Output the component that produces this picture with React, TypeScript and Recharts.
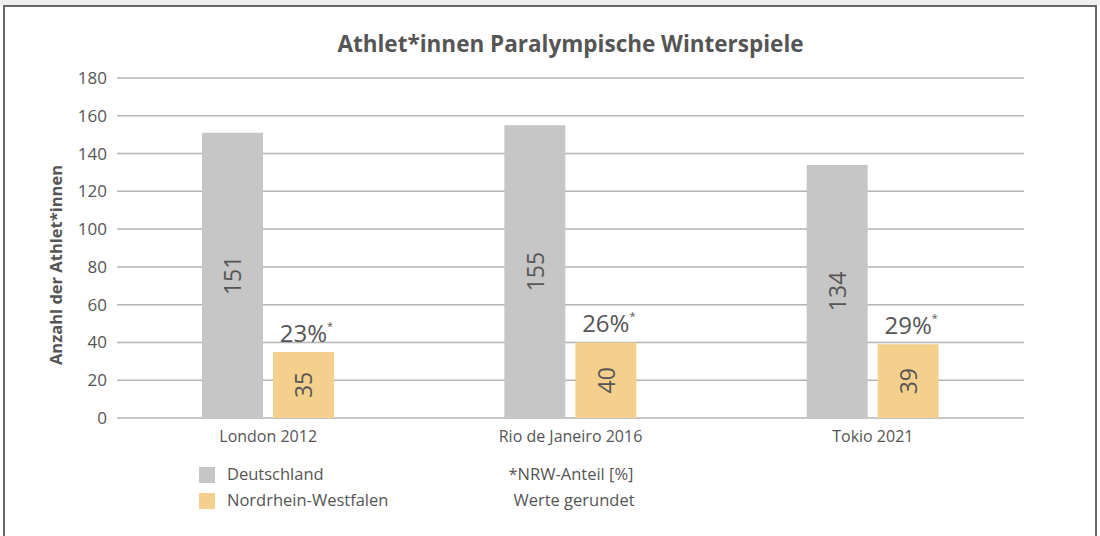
import { BarChart, Bar, XAxis, YAxis, CartesianGrid, LabelList } from 'recharts'

const categories = ['London 2012', 'Rio de Janeiro 2016', 'Tokio 2021']
const deutschland = [151, 155, 134]
const nrw = [35, 40, 39]
const nrwShare = [23, 26, 29]
const yTicks = [0, 20, 40, 60, 80, 100, 120, 140, 160, 180]

const data = categories.map((name, i) => ({
  name,
  de: deutschland[i],
  nrw: nrw[i],
  share: nrwShare[i],
}))

const FONT = '"Open Sans", "Noto Sans", sans-serif'
const TEXT = '#555555'

function InsideLabel(props: any) {
  const { x, y, width, height, value } = props
  const cx = x + width / 2
  const cy = y + height / 2
  return (
    <text
      x={cx}
      y={cy}
      transform={`rotate(-90 ${cx} ${cy})`}
      textAnchor="middle"
      dominantBaseline="central"
      fontSize={23}
      fontFamily={FONT}
      fill={TEXT}
    >
      {value}
    </text>
  )
}

function ShareLabel(props: any) {
  const { x, y, width, index } = props
  const cx = x + width / 2
  return (
    <text x={cx + 3} y={y - 10} textAnchor="middle" fontFamily={FONT} fill={TEXT}>
      <tspan fontSize={24}>{nrwShare[index]}%</tspan>
      <tspan fontSize={11} dy={-12}>*</tspan>
    </text>
  )
}

const legendText = { position: 'absolute' as const, fontSize: 16.5, color: TEXT, lineHeight: '22px', whiteSpace: 'nowrap' as const }

export default function App() {
  return (
    <div style={{ position: 'relative', width: 1100, height: 536, overflow: 'hidden', background: '#fff', fontFamily: FONT }}>
      <style>{'body{margin:0}'}</style>
      <div style={{ position: 'absolute', left: 0, top: 0, width: 1100, height: 5, background: '#efefef' }} />
      <div
        style={{
          position: 'absolute', left: 3, top: 5, width: 1094, height: 560,
          border: '2px solid #666', boxSizing: 'border-box',
        }}
      />
      <div
        style={{
          position: 'absolute', left: 117, width: 907, top: 28, textAlign: 'center',
          fontSize: 22.5, fontWeight: 700, color: TEXT,
        }}
      >
        Athlet*innen Paralympische Winterspiele
      </div>
      <div style={{ position: 'absolute', left: 55, top: 265, width: 0, height: 0 }}>
        <div
          style={{
            position: 'absolute', transform: 'translate(-50%, -50%) rotate(-90deg)',
            whiteSpace: 'nowrap', fontSize: 16.5, fontWeight: 700, color: TEXT,
          }}
        >
          Anzahl der Athlet*innen
        </div>
      </div>
      <div style={{ position: 'absolute', left: 0, top: 0 }}>
        <BarChart
          width={1100}
          height={536}
          data={data}
          margin={{ top: 78, right: 76, bottom: 88, left: 57 }}
          barSize={61}
          barGap={10}
        >
          <CartesianGrid vertical={false} stroke="#b3b3b3" strokeWidth={1.5} />
          <XAxis
            dataKey="name"
            axisLine={false}
            tickLine={false}
            tickSize={0}
            tickMargin={13}
            height={30}
            tick={{ fontSize: 16, fill: TEXT, fontFamily: FONT }}
          />
          <YAxis
            domain={[0, 180]}
            ticks={yTicks}
            axisLine={false}
            tickLine={false}
            tickSize={0}
            tickMargin={10}
            width={60}
            tick={{ fontSize: 17, fill: TEXT, fontFamily: FONT }}
          />
          <Bar dataKey="de" fill="#c6c6c6" isAnimationActive={false}>
            <LabelList dataKey="de" content={InsideLabel} />
          </Bar>
          <Bar dataKey="nrw" fill="#f5d08c" isAnimationActive={false}>
            <LabelList dataKey="nrw" content={InsideLabel} />
            <LabelList dataKey="share" content={ShareLabel} />
          </Bar>
        </BarChart>
      </div>
      <div style={{ position: 'absolute', left: 199, top: 467, width: 16, height: 16, background: '#c6c6c6' }} />
      <div style={{ position: 'absolute', left: 199, top: 493, width: 16, height: 16, background: '#f5d08c' }} />
      <div style={{ ...legendText, left: 227, top: 463 }}>Deutschland</div>
      <div style={{ ...legendText, left: 227, top: 489 }}>Nordrhein-Westfalen</div>
      <div style={{ ...legendText, left: 471, width: 200, top: 463, textAlign: 'center' }}>*NRW-Anteil [%]</div>
      <div style={{ ...legendText, left: 474, width: 200, top: 489, textAlign: 'center' }}>Werte gerundet</div>
    </div>
  )
}
